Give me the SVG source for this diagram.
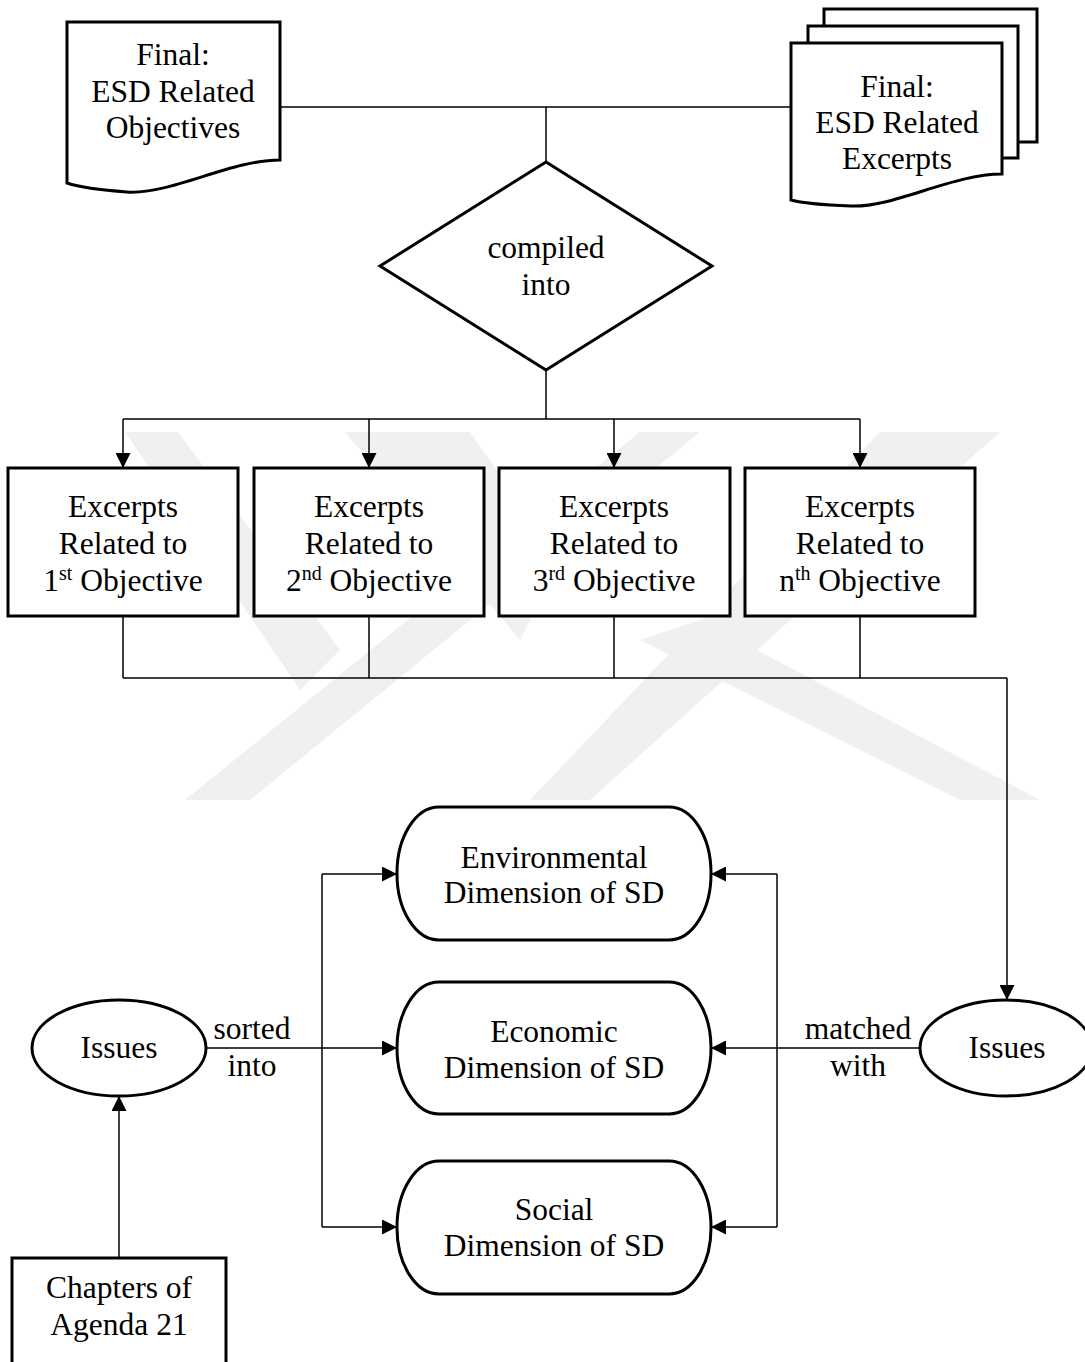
<svg xmlns="http://www.w3.org/2000/svg" width="1085" height="1362" viewBox="0 0 1085 1362">
<defs>
<style>
.node{fill:#fff;stroke:#000;stroke-width:3}
.conn{fill:none;stroke:#000;stroke-width:1.5}
.t{font-family:"Liberation Serif","Times New Roman",serif;font-size:31.5px;fill:#000;text-anchor:middle}
.wm{fill:#f0f0f0}
</style>
<marker id="ah" markerUnits="userSpaceOnUse" markerWidth="15" markerHeight="15" refX="15" refY="7.5" orient="auto">
<path d="M0,0 L15,7.5 L0,15 z" fill="#000"/>
</marker>
</defs>
<rect width="1085" height="1362" fill="#fff"/>
<g id="watermark">
<polygon class="wm" points="125,432 178,432 340,650 300,690"/>
<polygon class="wm" points="345,432 470,432 560,560 520,640"/>
<polygon class="wm" points="640,432 700,432 250,800 185,800"/>
<polygon class="wm" points="880,432 1000,432 590,800 530,800"/>
<polygon class="wm" points="640,640 700,620 1040,800 960,800"/>
</g>
<g id="connectors">
<path class="conn" d="M280,107 H791 M546,107 V162"/>
<path class="conn" d="M546,370 V419 M123,419 H860"/>
<path class="conn" d="M123,419 V468" marker-end="url(#ah)"/>
<path class="conn" d="M369,419 V468" marker-end="url(#ah)"/>
<path class="conn" d="M614,419 V468" marker-end="url(#ah)"/>
<path class="conn" d="M860,419 V468" marker-end="url(#ah)"/>
<path class="conn" d="M123,616 V678 M369,616 V678 M614,616 V678 M860,616 V678 M123,678 H1007"/>
<path class="conn" d="M1007,678 V1000" marker-end="url(#ah)"/>
<path class="conn" d="M206,1048 H397" marker-end="url(#ah)"/>
<path class="conn" d="M322,874 V1227"/>
<path class="conn" d="M322,874 H397" marker-end="url(#ah)"/>
<path class="conn" d="M322,1227 H397" marker-end="url(#ah)"/>
<path class="conn" d="M920,1048 H711" marker-end="url(#ah)"/>
<path class="conn" d="M777,874 V1227"/>
<path class="conn" d="M777,874 H711" marker-end="url(#ah)"/>
<path class="conn" d="M777,1227 H711" marker-end="url(#ah)"/>
<path class="conn" d="M119,1258 V1096" marker-end="url(#ah)"/>
<text class="t" x="252" y="1039">sorted</text>
<text class="t" x="252" y="1076">into</text>
<text class="t" x="858" y="1039">matched</text>
<text class="t" x="858" y="1076">with</text>
</g>
<g id="doc-objectives">
<path class="node" d="M67,22 H280 V160 C230,160 170,195 127,192 C100,190 82,188 67,183 Z"/>
<text class="t" x="173" y="65">Final:</text>
<text class="t" x="173" y="102">ESD Related</text>
<text class="t" x="173" y="138">Objectives</text>
</g>
<g id="doc-excerpts">
<rect class="node" x="824" y="9" width="213" height="133"/>
<rect class="node" x="808" y="26" width="210" height="132"/>
<path class="node" d="M791,43 H1002 V174 C952,174 893,208 851,206 C825,205 805,204 791,200 Z"/>
<text class="t" x="897" y="97">Final:</text>
<text class="t" x="897" y="133">ESD Related</text>
<text class="t" x="897" y="169">Excerpts</text>
</g>
<g id="decision">
<polygon class="node" points="546,162 712,266 546,370 380,266"/>
<text class="t" x="546" y="258">compiled</text>
<text class="t" x="546" y="295">into</text>
</g>
<g id="obj1">
<rect class="node" x="8" y="468" width="230" height="148"/>
<text class="t" x="123" y="517">Excerpts</text>
<text class="t" x="123" y="554">Related to</text>
<text class="t" x="123" y="591">1<tspan font-size="20" dy="-11">st</tspan><tspan dy="11"> Objective</tspan></text>
</g>
<g id="obj2">
<rect class="node" x="254" y="468" width="230" height="148"/>
<text class="t" x="369" y="517">Excerpts</text>
<text class="t" x="369" y="554">Related to</text>
<text class="t" x="369" y="591">2<tspan font-size="20" dy="-11">nd</tspan><tspan dy="11"> Objective</tspan></text>
</g>
<g id="obj3">
<rect class="node" x="499" y="468" width="231" height="148"/>
<text class="t" x="614" y="517">Excerpts</text>
<text class="t" x="614" y="554">Related to</text>
<text class="t" x="614" y="591">3<tspan font-size="20" dy="-11">rd</tspan><tspan dy="11"> Objective</tspan></text>
</g>
<g id="objn">
<rect class="node" x="745" y="468" width="230" height="148"/>
<text class="t" x="860" y="517">Excerpts</text>
<text class="t" x="860" y="554">Related to</text>
<text class="t" x="860" y="591">n<tspan font-size="20" dy="-11">th</tspan><tspan dy="11"> Objective</tspan></text>
</g>
<g id="env">
<rect class="node" x="397" y="807" width="314" height="133" rx="42" ry="66"/>
<text class="t" x="554" y="868">Environmental</text>
<text class="t" x="554" y="903">Dimension of SD</text>
</g>
<g id="eco">
<rect class="node" x="397" y="982" width="314" height="132" rx="42" ry="66"/>
<text class="t" x="554" y="1042">Economic</text>
<text class="t" x="554" y="1078">Dimension of SD</text>
</g>
<g id="soc">
<rect class="node" x="397" y="1161" width="314" height="133" rx="42" ry="66"/>
<text class="t" x="554" y="1220">Social</text>
<text class="t" x="554" y="1256">Dimension of SD</text>
</g>
<g id="issues-left">
<ellipse class="node" cx="119" cy="1048" rx="87" ry="48"/>
<text class="t" x="119" y="1058">Issues</text>
</g>
<g id="issues-right">
<ellipse class="node" cx="1006" cy="1048" rx="86" ry="48"/>
<text class="t" x="1007" y="1058">Issues</text>
</g>
<g id="chapters">
<rect class="node" x="12" y="1258" width="214" height="120"/>
<text class="t" x="119" y="1298">Chapters of</text>
<text class="t" x="119" y="1335">Agenda 21</text>
</g>
</svg>
